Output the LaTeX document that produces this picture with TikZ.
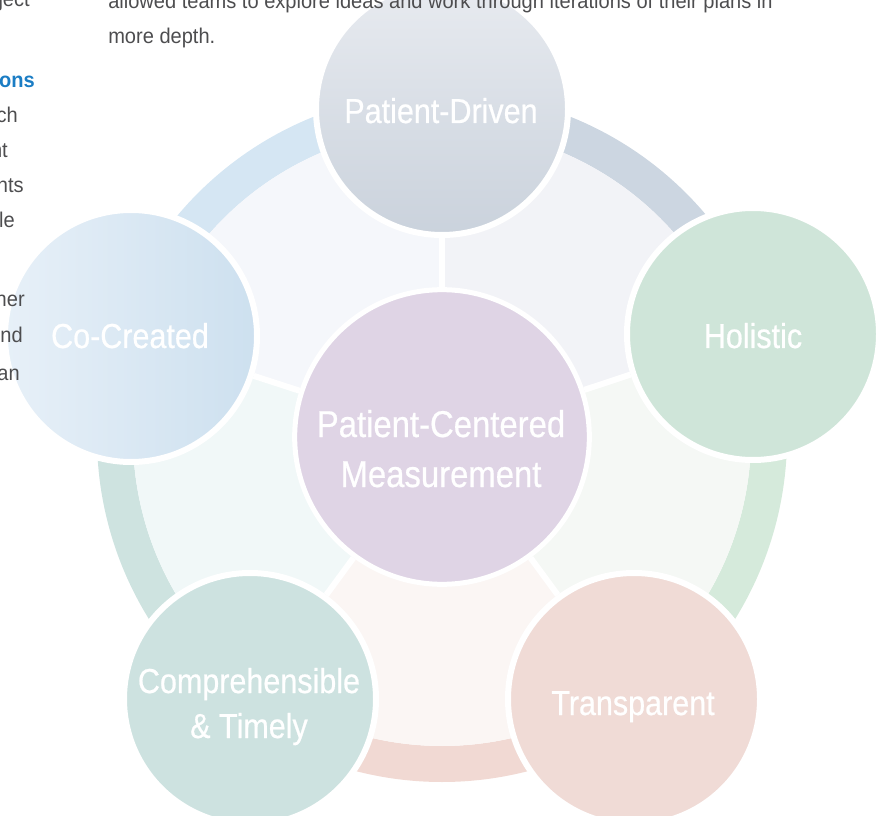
\documentclass[tikz,border=0pt]{standalone}
\usepackage{fontspec}
\setmainfont{Liberation Sans}[FakeStretch=0.94]
\newfontfamily\labelfont{Liberation Sans}[FakeStretch=0.88,FakeBold=0.6]
\usetikzlibrary{calc,backgrounds}

\definecolor{bodygray}{HTML}{4D4D4F}
\definecolor{headblue}{HTML}{1B7DC4}
\definecolor{pdtop}{HTML}{E8EBF0}
\definecolor{pdbot}{HTML}{CAD2DC}
\definecolor{holfill}{HTML}{CFE5D9}
\definecolor{trfill}{HTML}{F0DBD6}
\definecolor{ctfill}{HTML}{CDE2E0}
\definecolor{ccleft}{HTML}{E7F0F8}
\definecolor{ccright}{HTML}{CDE0EF}
\definecolor{hubfill}{HTML}{DFD4E5}
\definecolor{ringpd}{HTML}{CCD6E1}
\definecolor{ringhol}{HTML}{D5EADB}
\definecolor{ringtr}{HTML}{F1D9D3}
\definecolor{ringct}{HTML}{CEE3E0}
\definecolor{ringcc}{HTML}{D5E6F3}
\definecolor{secpd}{HTML}{F2F3F7}
\definecolor{sechol}{HTML}{F5F8F5}
\definecolor{sectr}{HTML}{FBF6F4}
\definecolor{secct}{HTML}{F1F8F8}
\definecolor{seccc}{HTML}{F5F7FB}

\begin{document}
\begin{tikzpicture}[x=0.75pt,y=0.75pt,yscale=-1,xscale=1,
  sat/.style={circle,draw=white,line width=4.5pt,minimum size=189pt,inner sep=0pt},
  hub/.style={circle,draw=white,line width=3.75pt,minimum size=221pt,inner sep=0pt,fill=hubfill},
  lbl/.style={anchor=base,inner sep=0pt,text=white,font=\labelfont\fontsize{26}{34}\selectfont},
  hublbl/.style={lbl,font=\labelfont\fontsize{28}{37}\selectfont},
  body/.style={text=bodygray,inner sep=0pt,font=\fontsize{16}{26}\selectfont},
  sep/.style={draw=white,line width=4.5pt}]
\useasboundingbox (0,0) rectangle (881,816);
\clip (0,0) rectangle (881,816);

%Centre circle
\node[hub] (hub) at (442,437) {};

%Outer circles
\node[sat,top color=pdtop,bottom color=pdbot] (pd) at (442,109) {};
\node[sat,fill=holfill] (hol) at (753,334) {};
\node[sat,fill=trfill] (tr) at (634,699) {};
\node[sat,fill=ctfill] (ct) at (250,699) {};
\node[sat,left color=ccleft,right color=ccright] (cc) at (131,336) {};

%Ring, pale sectors and white spokes
\begin{pgfonlayer}{background}
\foreach \a/\rc/\sc in {-90/ringpd/secpd,-18/ringhol/sechol,54/ringtr/sectr,126/ringct/secct,198/ringcc/seccc}{
  \fill[\rc] ($(hub.center)+(\a:309)$) arc[start angle=\a,end angle=\a+72,radius=309]
    -- ($(hub.center)+(\a+72:345)$) arc[start angle=\a+72,end angle=\a,radius=345] -- cycle;
  \fill[\sc] (hub.center) -- ($(hub.center)+(\a:309)$) arc[start angle=\a,end angle=\a+72,radius=309] -- cycle;
}
\foreach \s in {pd,hol,tr,ct,cc}
  \draw[sep] (hub) -- (\s);
\end{pgfonlayer}

% Text Node (labels)
\node[hublbl] (hublbla) at (441,437) {Patient-Centered};
\node[hublbl] (hublblb) at (441,487) {Measurement};
\node[lbl] (pdlbl) at (441,123) {Patient-Driven};
\node[lbl] (hollbl) at (753,348) {Holistic};
\node[lbl] (trlbl) at (633,715) {Transparent};
\node[lbl] (ctlbla) at (249,693) {Comprehensible};
\node[lbl] (ctlblb) at (249,738) {\& Timely};
\node[lbl] (cclbl) at (130,348) {Co-Created};

% Text Node
\node[body,anchor=base west] (introa) at (108,9) {allowed teams to explore ideas and work through iterations of their plans in};
\node[body,anchor=base west] (introb) at (108,44) {more depth.};

% Text Node (left column, cut off)
\node[body,anchor=base east,text=headblue,font=\bfseries\fontsize{16}{26}\selectfont] (head) at (35,88) {ions};
\foreach \x/\y/\t [count=\i] in {30/7/ject,18/123/ch,8/158/nt,24/193/nts,15/228/le,25/307/her,23/343/nd,20/380/an}
  \node[body,anchor=base east] (frag\i) at (\x,\y) {\t};

\end{tikzpicture}
\end{document}
